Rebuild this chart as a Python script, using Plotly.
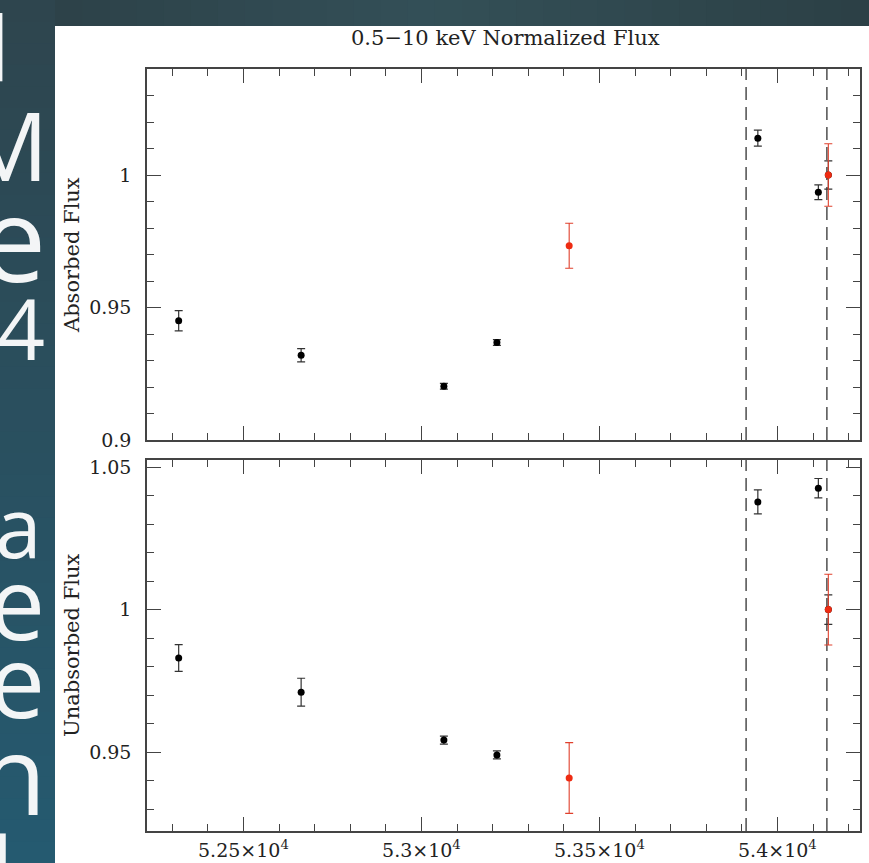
import plotly.graph_objects as go

# ---------------- data ----------------
mjd = [52318, 52662, 53063, 53212, 53945, 54115, 54143]
abs_flux = [0.9450, 0.9320, 0.9203, 0.9368, 1.0139, 0.9935, 1.0000]
abs_err = [0.0038, 0.0025, 0.0011, 0.0011, 0.0030, 0.0028, 0.0053]
unabs_flux = [0.9830, 0.9710, 0.9542, 0.9490, 1.0378, 1.0426, 1.0000]
unabs_err = [0.0047, 0.0049, 0.0014, 0.0014, 0.0042, 0.0034, 0.0052]

red_mjd = [53415, 54143]
red_abs_flux = [0.9733, 1.0000]
red_abs_err = [0.0085, 0.0118]
red_unabs_flux = [0.9409, 1.0000]
red_unabs_err = [0.0124, 0.0124]

vline_mjd = [53912, 54139]

x_tickvals = [52500, 53000, 53500, 54000]
x_ticktext = ["5.25×10<sup>4</sup>", "5.3×10<sup>4</sup>", "5.35×10<sup>4</sup>", "5.4×10<sup>4</sup>"]
abs_tickvals = [0.9, 0.95, 1.0]
abs_ticktext = ["0.9", "0.95", "1"]
unabs_tickvals = [0.95, 1.0, 1.05]
unabs_ticktext = ["0.95", "1", "1.05"]

title_text = "0.5−10 keV Normalized Flux"
abs_label = "Absorbed Flux"
unabs_label = "Unabsorbed Flux"
slide_letters = ["d", "M", "e", "4", "a", "e", "e", "n", "l"]

# ---------------- layout geometry ----------------
W, H = 869, 863
L, R, T, B = 147, 9, 69, 32
PW, PH = W - L - R, H - T - B


def px_x(px):
    return (px - L) / PW


def px_y(py):
    return (H - B - py) / PH


SERIF = "DejaVu Serif"
AX = "#444444"
INK = "#222222"
BLACK_BAR = "#333333"
RED = "#ee2b12"
RED_BAR = "#e0402c"

fig = go.Figure()

# black points
fig.add_trace(go.Scatter(x=mjd, y=unabs_flux, mode="markers", xaxis="x", yaxis="y",
                         marker=dict(color="black", size=7),
                         error_y=dict(type="data", array=unabs_err, color=BLACK_BAR, thickness=1.2, width=4),
                         showlegend=False))
fig.add_trace(go.Scatter(x=mjd, y=abs_flux, mode="markers", xaxis="x2", yaxis="y2",
                         marker=dict(color="black", size=7),
                         error_y=dict(type="data", array=abs_err, color=BLACK_BAR, thickness=1.2, width=4),
                         showlegend=False))
# red points
fig.add_trace(go.Scatter(x=red_mjd, y=red_unabs_flux, mode="markers", xaxis="x", yaxis="y",
                         marker=dict(color=RED, size=7),
                         error_y=dict(type="data", array=red_unabs_err, color=RED_BAR, thickness=1.1, width=4),
                         showlegend=False))
fig.add_trace(go.Scatter(x=red_mjd, y=red_abs_flux, mode="markers", xaxis="x2", yaxis="y2",
                         marker=dict(color=RED, size=7),
                         error_y=dict(type="data", array=red_abs_err, color=RED_BAR, thickness=1.1, width=4),
                         showlegend=False))

shapes = []
# slide background: left strip gradient
n_bands = 40
top_c = (46, 69, 78)
bot_c = (37, 90, 112)
for i in range(n_bands):
    f = i / (n_bands - 1)
    c = tuple(int(round(top_c[k] + (bot_c[k] - top_c[k]) * f)) for k in range(3))
    y0p = H * i / n_bands
    y1p = H * (i + 1) / n_bands + 1
    shapes.append(dict(type="rect", xref="paper", yref="paper", layer="below",
                       x0=px_x(-5), x1=px_x(56), y0=px_y(y1p), y1=px_y(y0p),
                       fillcolor="rgb(%d,%d,%d)" % c, line=dict(width=0)))
# top strip gradient (horizontal)
n_tb = 30
for i in range(n_tb):
    f = i / (n_tb - 1)
    m = 1 - abs(f - 0.45) / 0.55
    c = (int(44 + 8 * m), int(64 + 16 * m), int(70 + 18 * m))
    x0p = 55 + (W - 55) * i / n_tb
    x1p = 55 + (W - 55) * (i + 1) / n_tb + 1
    shapes.append(dict(type="rect", xref="paper", yref="paper", layer="below",
                       x0=px_x(x0p), x1=px_x(x1p), y0=px_y(26), y1=px_y(-5),
                       fillcolor="rgb(%d,%d,%d)" % c, line=dict(width=0)))
# white chart panel
shapes.append(dict(type="rect", xref="paper", yref="paper", layer="below",
                   x0=px_x(55), x1=px_x(W + 5), y0=px_y(H + 5), y1=px_y(26),
                   fillcolor="white", line=dict(width=0)))
# dashed vertical lines
for v in vline_mjd:
    for xr, yr in (("x", "y domain"), ("x2", "y2 domain")):
        shapes.append(dict(type="line", xref=xr, yref=yr, x0=v, x1=v, y0=0, y1=1,
                           layer="below", line=dict(color="#333333", width=1.3, dash="13px,7px")))

annotations = []
# title
annotations.append(dict(text=title_text, xref="paper", yref="paper", x=px_x(506), y=px_y(38),
                        xanchor="center", yanchor="middle", showarrow=False,
                        font=dict(family=SERIF, size=21, color=INK)))
# axis titles
annotations.append(dict(text=abs_label, xref="paper", yref="paper", x=px_x(72), y=px_y(255),
                        xanchor="center", yanchor="middle", showarrow=False, textangle=-90,
                        font=dict(family=SERIF, size=21, color=INK)))
annotations.append(dict(text=unabs_label, xref="paper", yref="paper", x=px_x(72), y=px_y(646),
                        xanchor="center", yanchor="middle", showarrow=False, textangle=-90,
                        font=dict(family=SERIF, size=21, color=INK)))
# partially visible slide letters on the left
letter_geom = [  # right edge px, baseline px, font size
    (12, 80, 90), (50, 180, 95), (48, 282, 118), (47, 360, 84),
    (44, 558, 84), (47, 640, 100), (47, 718, 100), (48, 815, 110), (16, 910, 100),
]
for ch, (rx, base, sz) in zip(slide_letters, letter_geom):
    annotations.append(dict(text=ch, xref="paper", yref="paper", x=px_x(rx), y=px_y(base - 0.388 * sz),
                            xanchor="right", yanchor="middle", showarrow=False,
                            height=int(0.86 * sz), valign="middle",
                            font=dict(family="Open Sans", size=sz, color="#f3f5f6")))

common_x = dict(range=[52229, 54232], tickmode="array", tickvals=x_tickvals, ticktext=x_ticktext,
                ticks="inside", ticklen=14, tickwidth=1.2, tickcolor=AX,
                showline=True, linecolor=AX, linewidth=1.5, mirror="ticks",
                minor=dict(ticks="inside", ticklen=7, tickwidth=1, tickcolor=AX, dtick=100, tick0=52200),
                showgrid=False, zeroline=False,
                tickfont=dict(family=SERIF, size=19, color=INK), ticklabelstandoff=1)
common_y = dict(tickmode="array", ticks="inside", ticklen=14, tickwidth=1.2, tickcolor=AX,
                showline=True, linecolor=AX, linewidth=1.5, mirror="ticks",
                showgrid=False, zeroline=False,
                tickfont=dict(family=SERIF, size=19, color=INK), ticklabelstandoff=10)

fig.update_layout(
    width=W, height=H,
    margin=dict(l=L, r=R, t=T, b=B, autoexpand=False),
    paper_bgcolor="rgb(44,66,74)",
    plot_bgcolor="white",
    showlegend=False,
    xaxis=dict(**common_x, anchor="y", domain=[0, 1]),
    xaxis2=dict(**common_x, anchor="y2", domain=[0, 1], matches="x", showticklabels=False),
    yaxis=dict(**common_y, anchor="x", domain=[0, px_y(460)], range=[0.9223, 1.0525],
               tickvals=unabs_tickvals, ticktext=unabs_ticktext,
               minor=dict(ticks="inside", ticklen=7, tickwidth=1, tickcolor=AX, dtick=0.01, tick0=0.9)),
    yaxis2=dict(**common_y, anchor="x2", domain=[px_y(440), 1], range=[0.9, 1.04],
                tickvals=abs_tickvals, ticktext=abs_ticktext,
                minor=dict(ticks="inside", ticklen=7, tickwidth=1, tickcolor=AX, dtick=0.01, tick0=0.9)),
    shapes=shapes,
    annotations=annotations,
)

fig.write_html("out.html")
